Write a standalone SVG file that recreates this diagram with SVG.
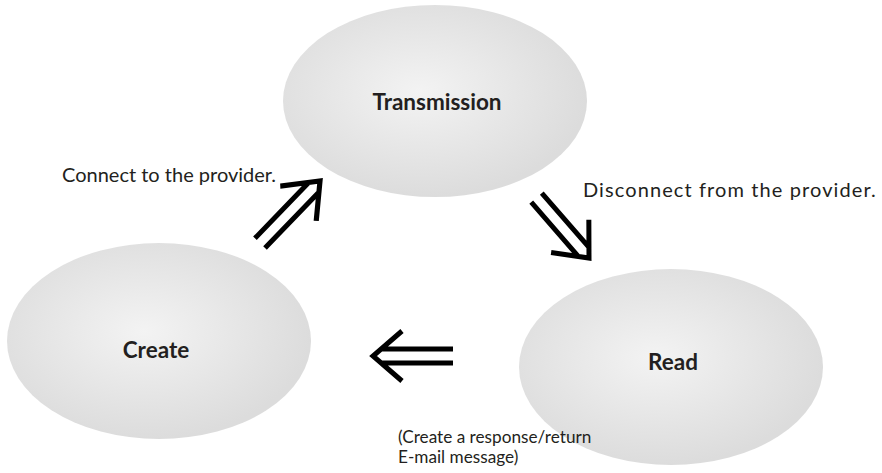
<svg xmlns="http://www.w3.org/2000/svg" width="882" height="473" viewBox="0 0 882 473">
  <defs>
    <radialGradient id="g" cx="0.45" cy="0.45" r="0.55">
      <stop offset="0" stop-color="#f3f3f3"/>
      <stop offset="1" stop-color="#dcdcdc"/>
    </radialGradient>
    <g id="arr">
      <path d="M -8 -7 L -80 -7 M -8 7 L -80 7 M -29 -25 L 0 0 L -29 25" fill="none" stroke="#000" stroke-width="5" stroke-linejoin="miter"/>
    </g>
  </defs>
  <style>
    .node { fill: url(#g); }
    .title { font-family: Lato, "Open Sans", "Liberation Sans", sans-serif; font-weight: bold; font-size: 22.5px; fill: #231f20; text-anchor: middle; }
    .lbl { font-family: Lato, "Open Sans", "Liberation Sans", sans-serif; font-size: 20px; fill: #231f20; }
    .cap { font-family: Lato, "Open Sans", "Liberation Sans", sans-serif; font-size: 17.2px; fill: #231f20; }
  </style>
  <rect width="882" height="473" fill="#fff"/>
  <g id="transmission">
    <ellipse class="node" cx="435" cy="101" rx="152" ry="96"/>
    <text class="title" x="437" y="110">Transmission</text>
  </g>
  <g id="create">
    <ellipse class="node" cx="159" cy="341" rx="152" ry="98"/>
    <text class="title" x="156" y="358">Create</text>
  </g>
  <g id="read">
    <ellipse class="node" cx="671" cy="367" rx="152" ry="98"/>
    <text class="title" x="673" y="370">Read</text>
  </g>
  <g id="connectors">
    <use href="#arr" transform="translate(320 181) rotate(-46) scale(1.08 1)"/>
    <use href="#arr" transform="translate(589 258) rotate(49)"/>
    <use href="#arr" transform="translate(373 356) rotate(180)"/>
    <text class="lbl" x="62" y="182">Connect to the provider.</text>
    <text class="lbl" x="583" y="197" font-size="21" letter-spacing="1.1">Disconnect from the provider.</text>
    <text class="cap" x="398" y="442.5">(Create a response/return</text>
    <text class="cap" x="398" y="463">E-mail message)</text>
  </g>
</svg>
